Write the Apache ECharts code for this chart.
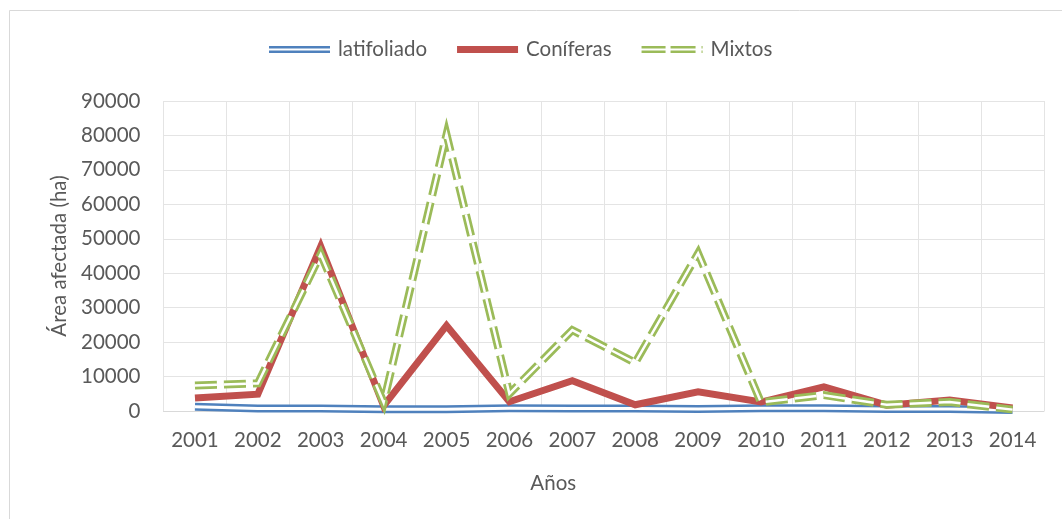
<!DOCTYPE html>
<html>
<head>
<meta charset="utf-8">
<script src="https://cdn.jsdelivr.net/npm/echarts@6/dist/echarts.min.js"></script>
<style>
  html, body { margin: 0; padding: 0; background: #ffffff; }
  #chart { width: 1062px; height: 519px; }
</style>
</head>
<body>
<div id="chart"></div>
<script>
// Años del periodo
const years = ['2001', '2002', '2003', '2004', '2005', '2006', '2007',
               '2008', '2009', '2010', '2011', '2012', '2013', '2014'];

// Superficie afectada por tipo de bosque (ha)
const latifoliado = [1200, 700, 700, 500, 500, 800, 700, 700, 600, 800, 800, 600, 600, 300];
const coniferas   = [3800, 4900, 47800, 1500, 24800, 2700, 8800, 1800, 5600, 2600, 7000, 1700, 3200, 900];
const mixtos      = [7400, 8000, 45500, 2500, 80300, 5000, 23500, 14000, 45800, 2500, 4600, 1800, 2600, 400];

const seriesNames = ['latifoliado', 'Coníferas', 'Mixtos'];
const yTicks = { min: 0, max: 90000, step: 10000 };

const BLUE = '#4F81BD', RED = '#C0504D', GREEN = '#9BBB59';
const TEXT = '#595959', GRID = '#e4e4e4';
const FONT = 'Lato, "Open Sans", sans-serif';
const DASH = [22, 7];

// Iconos de leyenda: línea doble, línea gruesa, línea doble discontinua
const iconDouble = 'path://M0,0H61V2.4H0Z M0,4.6H61V7H0Z';
const iconSolid = 'path://M0,0H61V7H0Z';
const iconDoubleDash = 'path://M0,0H24V2.5H0Z M0,4.5H24V7H0Z M29,0H54V2.5H29Z M29,4.5H54V7H29Z M60,0H61V2.5H60Z M60,4.5H61V7H60Z';

function lineSeries(name, data, color, width, type, z) {
  return {
    name: name,
    type: 'line',
    data: data,
    symbol: 'none',
    showSymbol: false,
    smooth: false,
    z: z,
    itemStyle: { color: color },
    lineStyle: { color: color, width: width, type: type, join: 'miter', miterLimit: 10, cap: 'butt' },
    emphasis: { disabled: true },
    silent: true
  };
}

const chart = echarts.init(document.getElementById('chart'), null, { renderer: 'canvas' });

chart.setOption({
  animation: false,
  backgroundColor: '#ffffff',
  textStyle: { fontFamily: FONT },
  graphic: [{
    type: 'rect',
    silent: true,
    shape: { x: 9.5, y: 10.5, width: 1200, height: 1000 },
    style: { fill: 'none', stroke: '#d9d9d9', lineWidth: 1 }
  }],
  legend: {
    left: 269,
    top: 39,
    padding: 0,
    itemWidth: 61,
    itemHeight: 7,
    itemGap: 30,
    selectedMode: false,
    itemStyle: { borderWidth: 0 },
    textStyle: { fontFamily: FONT, fontSize: 20.5, color: TEXT, padding: [0, 0, 0, 3] },
    data: [
      { name: seriesNames[0], icon: iconDouble },
      { name: seriesNames[1], icon: iconSolid },
      { name: seriesNames[2], icon: iconDoubleDash }
    ]
  },
  grid: { left: 163.5, right: 18, top: 101, bottom: 108, containLabel: false },
  xAxis: {
    type: 'category',
    data: years,
    boundaryGap: true,
    name: 'Años',
    nameLocation: 'middle',
    nameGap: 62,
    nameTextStyle: { fontFamily: FONT, fontSize: 20.5, color: TEXT, padding: [0, 101, 0, 0] },
    axisLine: { show: true, lineStyle: { color: '#d9d9d9', width: 1 } },
    axisTick: { show: false },
    axisLabel: { fontFamily: FONT, fontSize: 20.5, color: TEXT, margin: 19 },
    splitLine: { show: true, interval: 0, lineStyle: { color: GRID, width: 1 } }
  },
  yAxis: {
    type: 'value',
    min: yTicks.min,
    max: yTicks.max,
    interval: yTicks.step,
    name: 'Área afectada (ha)',
    nameLocation: 'middle',
    nameGap: 94,
    nameTextStyle: { fontFamily: FONT, fontSize: 20.5, color: TEXT },
    axisLine: { show: false },
    axisTick: { show: false },
    axisLabel: { fontFamily: FONT, fontSize: 20.5, color: TEXT, margin: 23, formatter: v => String(v) },
    splitLine: { show: true, lineStyle: { color: GRID, width: 1 } }
  },
  series: [
    // latifoliado: línea doble azul (trazo ancho con franja blanca central)
    lineSeries(seriesNames[0], latifoliado, BLUE, 8, 'solid', 2),
    lineSeries('latifoliado (franja)', latifoliado, '#ffffff', 3, 'solid', 2),
    // Coníferas: línea roja gruesa
    lineSeries(seriesNames[1], coniferas, RED, 7, 'solid', 2),
    // Mixtos: línea doble discontinua verde
    lineSeries(seriesNames[2], mixtos, GREEN, 8, DASH, 2),
    lineSeries('Mixtos (franja)', mixtos, '#ffffff', 2.5, DASH, 2)
  ]
});
</script>
</body>
</html>
